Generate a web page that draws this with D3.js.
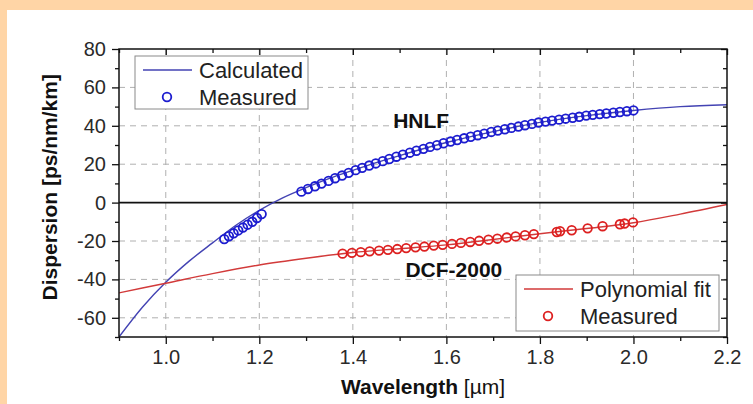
<!DOCTYPE html>
<html>
<head>
<meta charset="utf-8">
<script src="https://cdn.jsdelivr.net/npm/d3@7"></script>
<style>
  body { margin: 0; background: #ffd5a6; }
  #chart { position: absolute; left: 7px; top: 10px; width: 746px; height: 394px; background: #fff; }
  svg { position: absolute; left: 0; top: 0; }
  text { font-family: "Liberation Sans", Arial, sans-serif; }
</style>
</head>
<body>
<div id="chart"></div>
<script>
// HNLF calculated dispersion curve
var hnlfCalcWl = [0.9, 0.95, 1.0, 1.05, 1.1, 1.15, 1.2, 1.25, 1.3, 1.35, 1.4, 1.45, 1.5, 1.6, 1.7, 1.8, 1.9, 2.0, 2.1, 2.2];
var hnlfCalcD  = [-70, -54.5, -41.5, -30.5, -21, -11.8, -4, 2.5, 7.8, 12.6, 16.8, 20.8, 24.5, 31.3, 37, 41.8, 45.3, 48, 50, 51];

// HNLF measured points
var hnlfMeasWl = [1.125, 1.135, 1.145, 1.155, 1.165, 1.175, 1.185, 1.195, 1.205,
  1.290, 1.304, 1.319, 1.333, 1.348, 1.362, 1.377, 1.391, 1.406, 1.420, 1.435, 1.449, 1.464, 1.478, 1.493,
  1.507, 1.522, 1.536, 1.551, 1.565, 1.580, 1.594, 1.609, 1.623, 1.638, 1.652, 1.667, 1.681, 1.696,
  1.710, 1.725, 1.739, 1.754, 1.768, 1.783, 1.797, 1.812, 1.826, 1.841, 1.855, 1.870, 1.884, 1.899,
  1.913, 1.928, 1.942, 1.957, 1.971, 1.986, 2.000];
var hnlfMeasD  = [-19, -17.5, -16, -14.5, -13, -11.5, -10, -8, -6,
  5.7, 7.1, 8.5, 9.9, 11.3, 12.7, 14.1, 15.5, 16.9, 18.1, 19.3, 20.4, 21.6, 22.7, 23.9,
  25.0, 26.0, 27.0, 28.0, 29.0, 29.9, 30.9, 31.8, 32.6, 33.5, 34.3, 35.1, 35.9, 36.8,
  37.5, 38.2, 38.9, 39.6, 40.3, 41.0, 41.7, 42.2, 42.7, 43.2, 43.7, 44.2, 44.7, 45.3,
  45.7, 46.1, 46.4, 46.8, 47.2, 47.6, 48.0];

// DCF-2000 polynomial fit
var dcfFitWl = [0.9, 1.0, 1.1, 1.2, 1.3, 1.4, 1.5, 1.6, 1.7, 1.8, 1.9, 2.0, 2.1, 2.2];
var dcfFitD  = [-47, -42, -37, -32.5, -29, -26, -24, -22, -19.2, -16.2, -13.5, -10.5, -6, -1];

// DCF-2000 measured points
var dcfMeasWl = [1.378, 1.398, 1.417, 1.436, 1.456, 1.475, 1.495, 1.514, 1.534, 1.553, 1.573, 1.592,
  1.612, 1.631, 1.651, 1.670, 1.690, 1.709, 1.729, 1.748, 1.768, 1.787,
  1.836, 1.843, 1.868, 1.902, 1.934, 1.971, 1.981, 1.999];
var dcfMeasD  = [-26.6, -26.2, -25.8, -25.4, -25.0, -24.6, -24.2, -23.7, -23.3, -22.9, -22.4, -22.0,
  -21.5, -21.0, -20.5, -19.9, -19.3, -18.8, -18.2, -17.6, -17.0, -16.4,
  -15.3, -14.9, -14.4, -13.4, -12.3, -11.3, -10.9, -10.3];

var xMajor = [1.0, 1.2, 1.4, 1.6, 1.8, 2.0, 2.2];
var xMinor = [0.9, 1.1, 1.3, 1.5, 1.7, 1.9, 2.1];
var yMajor = [-60, -40, -20, 0, 20, 40, 60, 80];
var yMinor = [-70, -50, -30, -10, 10, 30, 50, 70];

var blueLine = "#4343b3", bluePt = "#1c1ccf";
var redLine = "#d23a3a", redPt = "#dd2020";

// chart is offset by (7,10) inside the page
var svgWidth = 746, svgHeight = 394;
var margin = { top: 39, right: 26, bottom: 67, left: 112 };
var width = svgWidth - margin.left - margin.right;
var height = svgHeight - margin.top - margin.bottom;

var svg = d3.select("#chart").append("svg")
  .attr("width", svgWidth)
  .attr("height", svgHeight);

var g = svg.append("g").attr("transform", `translate(${margin.left}, ${margin.top})`);

var x = d3.scaleLinear().domain([0.9, 2.2]).range([0, width]);
var y = d3.scaleLinear().domain([-70, 80]).range([height, 0]);

// grid
g.selectAll(".gx").data(xMajor.filter(d => d < 2.2)).enter().append("line")
  .attr("x1", d => x(d)).attr("x2", d => x(d))
  .attr("y1", 0).attr("y2", height)
  .attr("stroke", "#b0b0b0").attr("stroke-width", 1).attr("stroke-dasharray", "6,5");
g.selectAll(".gy").data(yMajor.filter(d => d !== 0 && d < 80)).enter().append("line")
  .attr("x1", 0).attr("x2", width)
  .attr("y1", d => y(d)).attr("y2", d => y(d))
  .attr("stroke", "#b0b0b0").attr("stroke-width", 1).attr("stroke-dasharray", "6,5");

// zero line
g.append("line").attr("x1", 0).attr("x2", width)
  .attr("y1", y(0)).attr("y2", y(0))
  .attr("stroke", "#111").attr("stroke-width", 1.6);

// clip for curves
svg.append("defs").append("clipPath").attr("id", "clip")
  .append("rect").attr("width", width).attr("height", height);

var line = d3.line().x(d => x(d[0])).y(d => y(d[1])).curve(d3.curveMonotoneX);

g.append("path")
  .datum(hnlfCalcWl.map((w, i) => [w, hnlfCalcD[i]]))
  .attr("clip-path", "url(#clip)")
  .attr("d", line).attr("fill", "none")
  .attr("stroke", blueLine).attr("stroke-width", 1.4);

g.append("path")
  .datum(dcfFitWl.map((w, i) => [w, dcfFitD[i]]))
  .attr("clip-path", "url(#clip)")
  .attr("d", line).attr("fill", "none")
  .attr("stroke", redLine).attr("stroke-width", 1.4);

g.selectAll(".hp").data(hnlfMeasWl.map((w, i) => [w, hnlfMeasD[i]])).enter().append("circle")
  .attr("cx", d => x(d[0])).attr("cy", d => y(d[1])).attr("r", 4.3)
  .attr("fill", "none").attr("stroke", bluePt).attr("stroke-width", 1.8);

g.selectAll(".dp").data(dcfMeasWl.map((w, i) => [w, dcfMeasD[i]])).enter().append("circle")
  .attr("cx", d => x(d[0])).attr("cy", d => y(d[1])).attr("r", 4.3)
  .attr("fill", "none").attr("stroke", redPt).attr("stroke-width", 1.8);

// axes
function styleAxis(sel) {
  sel.select(".domain").remove();
  sel.selectAll(".tick line").attr("stroke", "#111").attr("stroke-width", 1.3);
  sel.selectAll(".tick text").attr("fill", "#2a2a2a").style("font-size", "20px")
    .style("font-family", "'Liberation Sans', Arial, sans-serif");
}

var bottomAxis = g.append("g").attr("transform", `translate(0, ${height})`)
  .call(d3.axisBottom(x).tickValues(xMajor).tickSize(7).tickPadding(6).tickFormat(d3.format(".1f")));
styleAxis(bottomAxis);
var bottomMinor = g.append("g").attr("transform", `translate(0, ${height})`)
  .call(d3.axisBottom(x).tickValues(xMinor).tickSize(4).tickFormat(""));
styleAxis(bottomMinor);

var topAxis = g.append("g")
  .call(d3.axisBottom(x).tickValues(xMajor).tickSize(6).tickFormat(""));
styleAxis(topAxis);
var topMinor = g.append("g")
  .call(d3.axisBottom(x).tickValues(xMinor).tickSize(4).tickFormat(""));
styleAxis(topMinor);

var leftAxis = g.append("g")
  .call(d3.axisLeft(y).tickValues(yMajor).tickSize(7).tickPadding(6).tickFormat(d => String(d)));
styleAxis(leftAxis);
var leftMinor = g.append("g")
  .call(d3.axisLeft(y).tickValues(yMinor).tickSize(4).tickFormat(""));
styleAxis(leftMinor);

var rightAxis = g.append("g").attr("transform", `translate(${width}, 0)`)
  .call(d3.axisLeft(y).tickValues(yMajor).tickSize(6).tickFormat(""));
styleAxis(rightAxis);
var rightMinor = g.append("g").attr("transform", `translate(${width}, 0)`)
  .call(d3.axisLeft(y).tickValues(yMinor).tickSize(4).tickFormat(""));
styleAxis(rightMinor);

// frame
g.append("rect").attr("width", width).attr("height", height)
  .attr("fill", "none").attr("stroke", "#111").attr("stroke-width", 1.5);

// axis titles
g.append("text")
  .attr("x", width / 2).attr("y", height + 57)
  .attr("text-anchor", "middle")
  .style("font-size", "21px").style("font-weight", "bold").attr("fill", "#111")
  .html("Wavelength <tspan font-weight='normal'>[µm]</tspan>");

g.append("text")
  .attr("transform", `translate(${-62}, ${y(8)}) rotate(-90)`)
  .attr("text-anchor", "middle")
  .style("font-size", "21px").style("font-weight", "bold").attr("fill", "#111")
  .text("Dispersion [ps/nm/km]");

// annotations
g.append("text").attr("x", x(1.546)).attr("y", y(39))
  .attr("text-anchor", "middle")
  .style("font-size", "21px").style("font-weight", "bold").attr("fill", "#111")
  .text("HNLF");
g.append("text").attr("x", x(1.616)).attr("y", y(-39))
  .attr("text-anchor", "middle")
  .style("font-size", "21px").style("font-weight", "bold").attr("fill", "#111")
  .text("DCF-2000");

// legends
function legend(x0, y0, w, h, col, ptCol, label1, label2) {
  var lg = g.append("g").attr("transform", `translate(${x0}, ${y0})`);
  lg.append("rect").attr("width", w).attr("height", h)
    .attr("fill", "#fff").attr("stroke", "#8a8a8a").attr("stroke-width", 1);
  lg.append("line").attr("x1", 8).attr("x2", 57).attr("y1", 14).attr("y2", 14)
    .attr("stroke", col).attr("stroke-width", 1.6);
  lg.append("circle").attr("cx", 32).attr("cy", 41).attr("r", 4.3)
    .attr("fill", "none").attr("stroke", ptCol).attr("stroke-width", 1.8);
  lg.append("text").attr("x", 64).attr("y", 14).attr("dy", "0.36em")
    .style("font-size", "22px").attr("fill", "#222").text(label1);
  lg.append("text").attr("x", 64).attr("y", 41).attr("dy", "0.36em")
    .style("font-size", "22px").attr("fill", "#222").text(label2);
}
legend(16, 7, 173, 53, blueLine, bluePt, "Calculated", "Measured");
legend(397, 226, 203, 56, redLine, redPt, "Polynomial fit", "Measured");
</script>
</body>
</html>
